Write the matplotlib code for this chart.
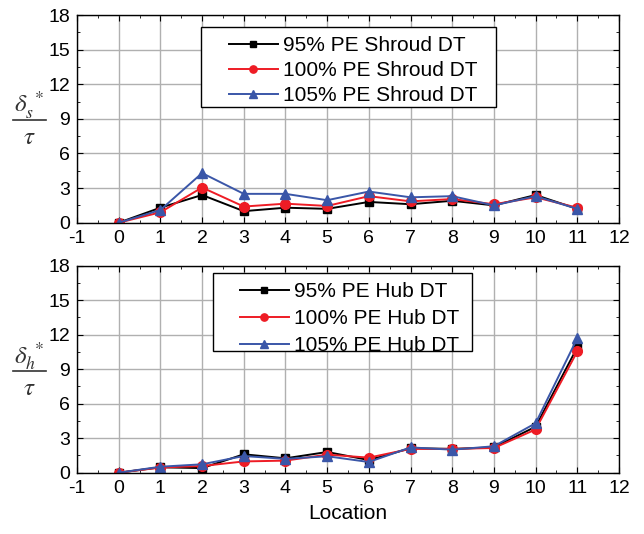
import matplotlib
matplotlib.use("Agg")
import matplotlib.pyplot as plt
from matplotlib.lines import Line2D
from matplotlib.patches import Rectangle
from matplotlib.ticker import MultipleLocator

plt.rcParams["font.family"] = ["Liberation Sans", "DejaVu Sans"]
plt.rcParams["axes.unicode_minus"] = False
plt.rcParams["mathtext.fontset"] = "stix"

locations = list(range(12))

shroud_95 = [0.0, 1.3, 2.4, 1.0, 1.3, 1.2, 1.8, 1.6, 1.9, 1.5, 2.4, 1.2]
shroud_100 = [0.0, 0.9, 3.05, 1.4, 1.65, 1.45, 2.3, 1.85, 2.05, 1.6, 2.2, 1.3]
shroud_105 = [0.0, 1.1, 4.3, 2.5, 2.5, 1.95, 2.7, 2.2, 2.3, 1.5, 2.3, 1.2]

hub_95 = [0.0, 0.47, 0.4, 1.6, 1.25, 1.8, 1.1, 2.13, 2.07, 2.2, 4.0, 10.9]
hub_100 = [0.0, 0.45, 0.58, 0.98, 1.05, 1.57, 1.31, 2.07, 2.07, 2.15, 3.76, 10.55]
hub_105 = [0.0, 0.52, 0.73, 1.45, 1.2, 1.43, 0.93, 2.2, 2.0, 2.3, 4.3, 11.7]

shroud_labels = ["95% PE Shroud DT", "100% PE Shroud DT", "105% PE Shroud DT"]
hub_labels = ["95% PE Hub DT", "100% PE Hub DT", "105% PE Hub DT"]

colors = ["#000000", "#ee1c25", "#3a56a8"]
markers = ["s", "o", "^"]
msizes = [6, 7, 7.5]

W, H = 644, 534
fig = plt.figure(figsize=(W / 100, H / 100), dpi=100)
ax1 = fig.add_axes([77 / W, 1 - 222.7 / H, 542 / W, 207.7 / H])
ax2 = fig.add_axes([77 / W, 1 - 472.7 / H, 542 / W, 207.0 / H])

def fx(p):
    return p / W

def fy(p):
    return 1 - p / H

def style(ax, series, labels, num, ybar, box, handle_x, first_row, lspace):
    lines = []
    for s, lab, c, m, ms in zip(series, labels, colors, markers, msizes):
        ln, = ax.plot(locations, s, color=c, marker=m, markersize=ms, lw=1.4,
                      label=lab, markeredgecolor=c)
        lines.append(ln)
    ax.set_xlim(-1, 12)
    ax.set_ylim(0, 18)
    ax.xaxis.set_major_locator(MultipleLocator(1))
    ax.xaxis.set_minor_locator(MultipleLocator(0.5))
    ax.yaxis.set_major_locator(MultipleLocator(3))
    ax.yaxis.set_minor_locator(MultipleLocator(1.5))
    ax.tick_params(which="both", direction="in", top=True, right=True,
                   labelsize=14, pad=5)
    ax.tick_params(which="major", length=4)
    ax.tick_params(which="minor", length=2.5)
    ax.grid(True, which="major", color="#b0b0b0", lw=1.0)
    ax.set_axisbelow(True)
    for sp in ax.spines.values():
        sp.set_linewidth(1.0)
    # fraction-style y label
    fig.text(fx(29), fy(ybar - 15), num, fontsize=18, ha="center",
             va="center", color="#333333")
    fig.add_artist(Line2D([fx(13), fx(46)], [fy(ybar), fy(ybar)],
                          transform=fig.transFigure, color="#333333", lw=1.2))
    fig.text(fx(29), fy(ybar + 17), r"$\tau$", fontsize=18, ha="center",
             va="center", color="#333333")
    # legend box
    x0, y0, x1, y1 = box
    rect = Rectangle((fx(x0), fy(y1)), fx(x1) - fx(x0), fy(y0) - fy(y1),
                     transform=fig.transFigure, facecolor="white",
                     edgecolor="black", lw=1.0, zorder=4)
    fig.add_artist(rect)
    leg = fig.legend(handles=lines, labels=labels, loc="upper left",
                     bbox_to_anchor=(fx(handle_x), fy(first_row - 8)),
                     bbox_transform=fig.transFigure, frameon=False,
                     fontsize=15, handlelength=2.35, handletextpad=0.25,
                     borderpad=0.0, labelspacing=lspace, borderaxespad=0.0,
                     markerscale=0.75)
    leg.set_zorder(5)

style(ax1, [shroud_95, shroud_100, shroud_105], shroud_labels,
      r"$\delta_s^{\ *}$", 120, (201, 27, 496, 107), 229, 44, 0.3)
style(ax2, [hub_95, hub_100, hub_105], hub_labels,
      r"$\delta_h^{\ *}$", 371, (213, 273, 472, 351), 240, 290, 0.38)
ax2.set_xlabel("Location", fontsize=15, labelpad=5)

fig.savefig("out.png", dpi=100)
